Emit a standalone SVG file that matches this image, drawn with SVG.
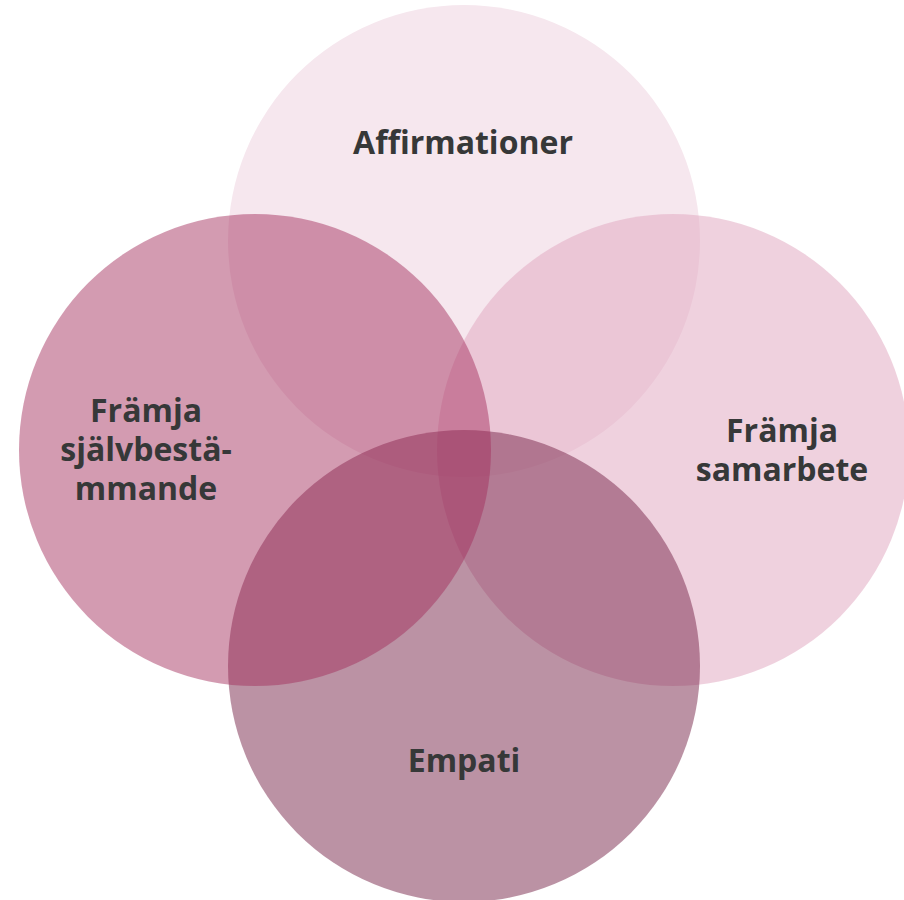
<svg xmlns="http://www.w3.org/2000/svg" width="904" height="900" viewBox="0 0 904 900">
<style>
.lbl{font-family:"Open Sans","Liberation Sans",sans-serif;font-weight:bold;font-size:32px;fill:#363838;text-anchor:middle}
</style>
<rect width="904" height="900" fill="#ffffff"/>
<g id="node-affirmationer">
<circle cx="464" cy="241" r="236" fill="#f6e7ee"/>
</g>
<g id="node-samarbete">
<circle cx="673" cy="450" r="236" fill="#e2abc3" fill-opacity="0.55"/>
</g>
<g id="node-empati">
<circle cx="464" cy="666" r="236" fill="#772549" fill-opacity="0.5"/>
</g>
<g id="node-sjalvbestammande">
<circle cx="255" cy="450" r="236" fill="#a32d5d" fill-opacity="0.48"/>
</g>
<g id="connectors"></g>
<g id="labels">
<text class="lbl" x="463" y="154">Affirmationer</text>
<text class="lbl" x="146" y="422">Främja</text>
<text class="lbl" x="146" y="461">självbestä-</text>
<text class="lbl" x="146" y="500">mmande</text>
<text class="lbl" x="782" y="442">Främja</text>
<text class="lbl" x="782" y="481">samarbete</text>
<text class="lbl" x="464" y="772">Empati</text>
</g>
</svg>
